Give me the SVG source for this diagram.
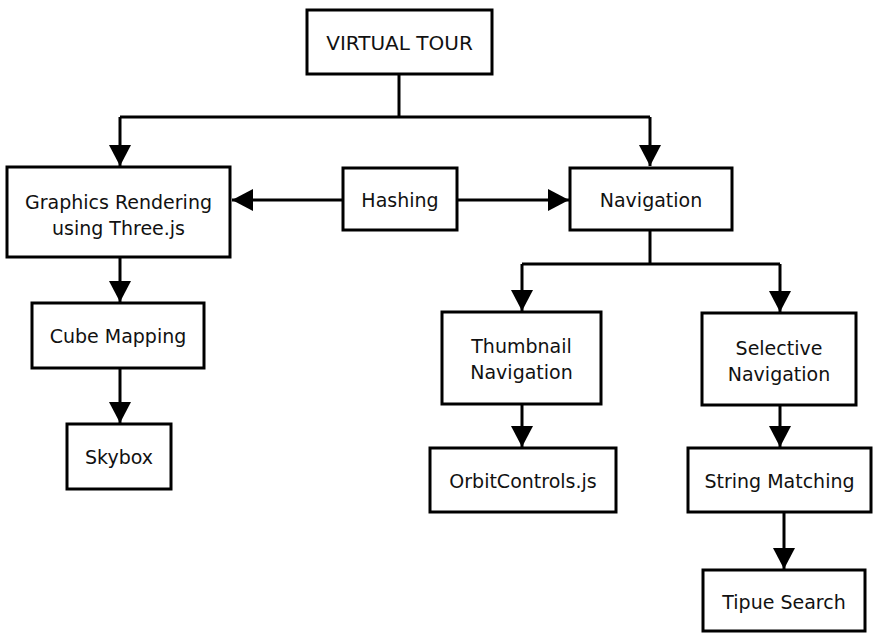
<svg xmlns="http://www.w3.org/2000/svg" width="874" height="633" viewBox="0 0 874 633">
  <style>
    .box { fill: #fff; stroke: #000; stroke-width: 3; }
    .lbl { font-family: "DejaVu Sans", Verdana, sans-serif; font-size: 19px; fill: #111; text-anchor: middle; }
    .wire { fill: none; stroke: #000; stroke-width: 3; }
  </style>
  <defs>
    <marker id="arrow" viewBox="0 0 21 22" refX="21" refY="11" markerWidth="21" markerHeight="22" markerUnits="userSpaceOnUse" orient="auto">
      <path d="M0,0 L21,11 L0,22 Z" fill="#000"/>
    </marker>
  </defs>
  <rect width="874" height="633" fill="#fff"/>

  <g id="connectors">
    <path class="wire" d="M399,74 V117"/>
    <path class="wire" d="M120,117 H650"/>
    <path class="wire" d="M120,117 V166" marker-end="url(#arrow)"/>
    <path class="wire" d="M650,117 V166" marker-end="url(#arrow)"/>
    <path class="wire" d="M343,200 H232" marker-end="url(#arrow)"/>
    <path class="wire" d="M457,200 H569" marker-end="url(#arrow)"/>
    <path class="wire" d="M120,257 V302" marker-end="url(#arrow)"/>
    <path class="wire" d="M120,368 V423" marker-end="url(#arrow)"/>
    <path class="wire" d="M650,230 V264"/>
    <path class="wire" d="M522,264 H780"/>
    <path class="wire" d="M522,264 V311" marker-end="url(#arrow)"/>
    <path class="wire" d="M780,264 V312" marker-end="url(#arrow)"/>
    <path class="wire" d="M522,404 V447" marker-end="url(#arrow)"/>
    <path class="wire" d="M780,405 V447" marker-end="url(#arrow)"/>
    <path class="wire" d="M784,512 V569" marker-end="url(#arrow)"/>
  </g>

  <g id="virtual-tour">
    <rect class="box" x="307" y="10" width="185" height="64"/>
    <text class="lbl" x="399.5" y="50" style="font-size:20px">VIRTUAL TOUR</text>
  </g>
  <g id="graphics-rendering">
    <rect class="box" x="7" y="167" width="223" height="90"/>
    <text class="lbl" x="118.5" y="209">Graphics Rendering</text>
    <text class="lbl" x="118.5" y="235">using Three.js</text>
  </g>
  <g id="hashing">
    <rect class="box" x="343" y="168" width="114" height="62"/>
    <text class="lbl" x="400" y="207">Hashing</text>
  </g>
  <g id="navigation">
    <rect class="box" x="570" y="168" width="162" height="62"/>
    <text class="lbl" x="651" y="207">Navigation</text>
  </g>
  <g id="cube-mapping">
    <rect class="box" x="32" y="303" width="172" height="65"/>
    <text class="lbl" x="118" y="343">Cube Mapping</text>
  </g>
  <g id="skybox">
    <rect class="box" x="67" y="424" width="104" height="65"/>
    <text class="lbl" x="119" y="464">Skybox</text>
  </g>
  <g id="thumbnail-navigation">
    <rect class="box" x="442" y="312" width="159" height="92"/>
    <text class="lbl" x="521.5" y="353">Thumbnail</text>
    <text class="lbl" x="521.5" y="379">Navigation</text>
  </g>
  <g id="selective-navigation">
    <rect class="box" x="702" y="313" width="154" height="92"/>
    <text class="lbl" x="779" y="355">Selective</text>
    <text class="lbl" x="779" y="381">Navigation</text>
  </g>
  <g id="orbit-controls">
    <rect class="box" x="430" y="448" width="186" height="64"/>
    <text class="lbl" x="523" y="488">OrbitControls.js</text>
  </g>
  <g id="string-matching">
    <rect class="box" x="688" y="448" width="183" height="64"/>
    <text class="lbl" x="779.5" y="488">String Matching</text>
  </g>
  <g id="tipue-search">
    <rect class="box" x="703" y="570" width="162" height="61"/>
    <text class="lbl" x="784" y="609">Tipue Search</text>
  </g>
</svg>
